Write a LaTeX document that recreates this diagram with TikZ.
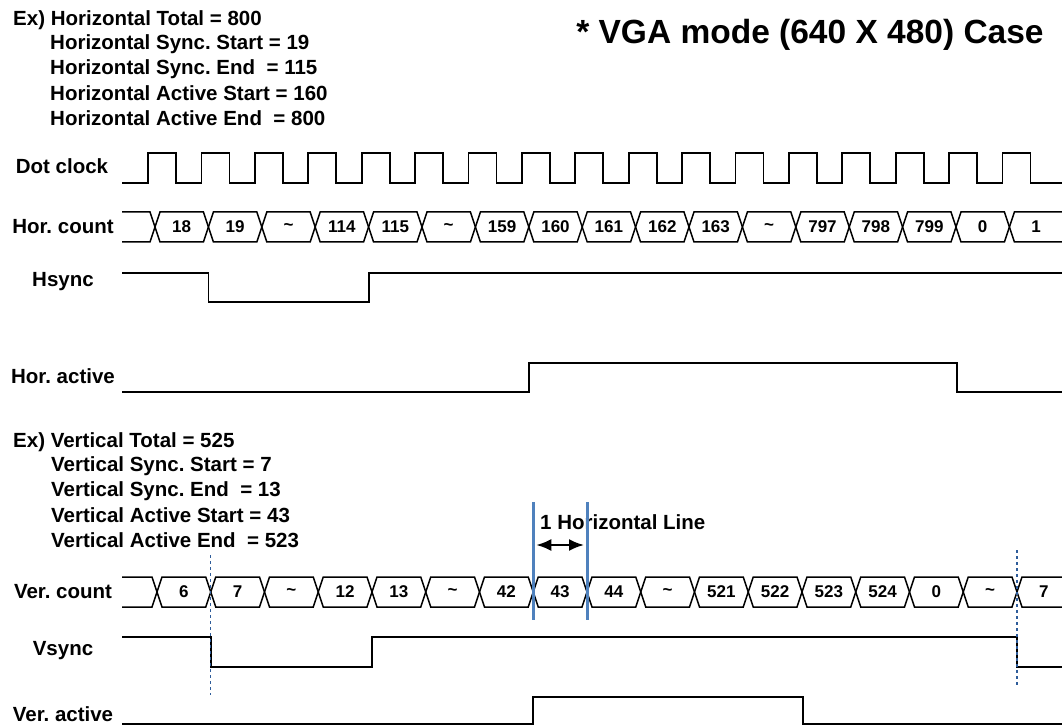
\documentclass[tikz,border=0pt]{standalone}
\usepackage{fontspec}
\setmainfont{Liberation Sans}
\usetikzlibrary{positioning}
\usetikzlibrary{shapes,arrows,arrows.meta}
\definecolor{lineblue}{HTML}{4F81BD}
\definecolor{dashblue}{HTML}{2E5C9A}
\tikzstyle{wave} = [draw, line width=1.8pt, line join=miter]
\tikzstyle{bus} = [draw, line width=1.5pt]
\tikzstyle{txt} = [anchor=west, inner sep=0, font=\bfseries\fontsize{20.5}{24}\selectfont]
\tikzstyle{sig} = [inner sep=0, font=\bfseries\fontsize{20.5}{24}\selectfont]
\tikzstyle{val} = [inner sep=0, font=\bfseries\fontsize{17}{20}\selectfont]
\tikzstyle{marker} = [draw, lineblue, line width=3pt]
\tikzstyle{guide} = [draw, dashblue, line width=1.2pt, dash pattern=on 3pt off 3pt]
\tikzstyle{span} = [draw, line width=2.2pt, {Latex[length=15pt,width=12pt]}-{Latex[length=15pt,width=12pt]}]

\begin{document}
\frenchspacing
\begin{tikzpicture}[x=1pt, y=-1pt]
\useasboundingbox (0,0) rectangle (1062,727);
\clip (0,0) rectangle (1062,727);

\node at (13, 20) [txt] (hTotal) {Ex) Horizontal Total = 800};
\node at (50, 44.5) [txt] (hSyncS) {Horizontal Sync. Start = 19};
\node at (50, 69) [txt] (hSyncE) {Horizontal Sync. End~ = 115};
\node at (50, 93.5) [txt] (hActS) {Horizontal Active Start = 160};
\node at (50, 118) [txt] (hActE) {Horizontal Active End~ = 800};
\node at (810, 35) [sig, font=\bfseries\fontsize{33.5}{38}\selectfont] (title) {* VGA mode (640 X 480) Case};

\node at (62, 166) [sig] (dclk) {Dot clock};
\node at (63, 227) [sig] (hcount) {Hor. count};
\node at (63, 282) [sig] (hsync) {Hsync};
\node at (63, 376) [sig] (hact) {Hor. active};

\path [wave] (122,183) \foreach \i in {0,...,16} { -- ({148+\i*53.4},183) -- ({148+\i*53.4},153) -- ({176+\i*53.4},153) -- ({176+\i*53.4},183) } -- (1062,183);

\path [bus] (122,212) -- (150,212) -- (155,227) -- (150,242) -- (122,242);
\foreach \lab [count=\i] in {18,19,\textasciitilde,114,115,\textasciitilde,159,160,161,162,163,\textasciitilde,797,798,799,0,1} {
  \pgfmathsetmacro\xa{155+(\i-1)*53.4}
  \pgfmathsetmacro\xb{\i==17 ? 1080 : \xa+53.4}
  \path [bus] (\xa,227) -- (\xa+5,212) -- (\xb-5,212) -- (\xb,227) -- (\xb-5,242) -- (\xa+5,242) -- cycle;
  \node at (\xa+26.7,227) [val] (hc\i) {\lab};
}

\path [wave] (122,273) -- (208.4,273) -- (208.4,302) -- (368.6,302) -- (368.6,273) -- (1062,273);
\path [wave] (122,392) -- (528.8,392) -- (528.8,363) -- (957,363) -- (957,392) -- (1062,392);

\node at (13, 442) [txt] (vTotal) {Ex) Vertical Total = 525};
\node at (51, 466.5) [txt] (vSyncS) {Vertical Sync. Start = 7};
\node at (51, 491) [txt] (vSyncE) {Vertical Sync. End~ = 13};
\node at (51, 515.5) [txt] (vActS) {Vertical Active Start = 43};
\node at (51, 540) [txt] (vActE) {Vertical Active End~ = 523};

\node at (63, 592) [sig] (vcount) {Ver. count};
\node at (63, 651) [sig] (vsync) {Vsync};
\node at (63, 714) [sig] (vact) {Ver. active};

\path [bus] (122,577) -- (152,577) -- (157,592) -- (152,607) -- (122,607);
\foreach \lab [count=\i] in {6,7,\textasciitilde,12,13,\textasciitilde,42,43,44,\textasciitilde,521,522,523,524,0,\textasciitilde,7} {
  \pgfmathsetmacro\xa{157+(\i-1)*53.75}
  \pgfmathsetmacro\xb{\i==17 ? 1080 : \xa+53.75}
  \path [bus] (\xa,592) -- (\xa+5,577) -- (\xb-5,577) -- (\xb,592) -- (\xb-5,607) -- (\xa+5,607) -- cycle;
  \node at (\xa+26.9,592) [val] (vc\i) {\lab};
}

\path [wave] (122,637) -- (210.75,637) -- (210.75,667) -- (372,667) -- (372,637) -- (1017,637) -- (1017,667) -- (1062,667);
\path [wave] (122,724) -- (533.25,724) -- (533.25,697) -- (803,697) -- (803,724) -- (1062,724);

\node at (540, 522) [txt] (hline) {1 Horizontal Line};
\coordinate (lnA) at (533.25,545);
\coordinate (lnB) at (587,545);
\path [marker] (533.25,502) -- (533.25,620);
\path [marker] (587,502) -- (587,620);
\path [span] ([xshift=3pt]lnA) -- ([xshift=-3pt]lnB);

\path [guide] (210.75,555) -- (210.75,695);
\path [guide] (1017,550) -- (1017,685);
\end{tikzpicture}
\end{document}
